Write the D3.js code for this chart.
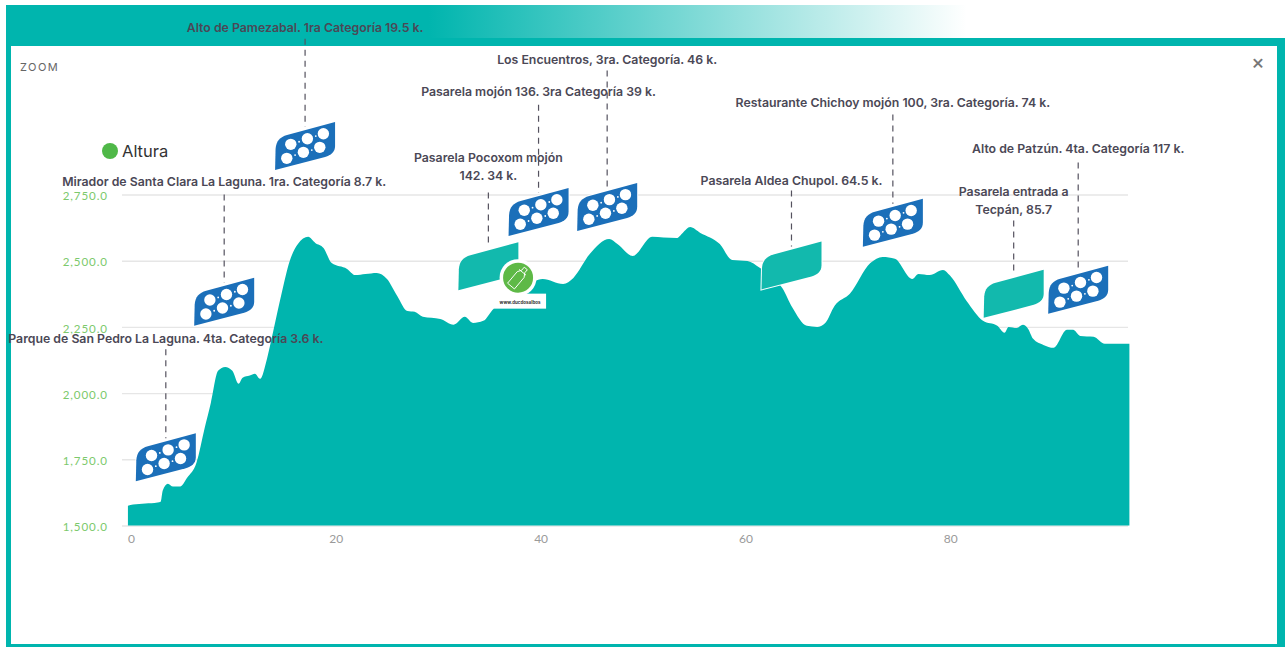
<!DOCTYPE html>
<html>
<head>
<meta charset="utf-8">
<script src="https://cdn.jsdelivr.net/npm/d3@7"></script>
<style>
  html, body { margin: 0; padding: 0; background: #fff; }
  svg { display: block; }
  text { font-family: Inter, "Open Sans", sans-serif; }
  .markerLabel { font-size: 12.3px; font-weight: 600; fill: #4b4856; text-anchor: middle; dominant-baseline: central; }
  .yAxis text { font-family: Lato, sans-serif; font-size: 11.6px; letter-spacing: 0.9px; fill: #7cc96c; }
  .xAxis text { font-family: Lato, sans-serif; font-size: 12px; fill: #9a9a9a; }
  .yAxis line { stroke: #e6e6e6; stroke-width: 1.4; }
  .stem { stroke: #55525f; stroke-width: 1.2; stroke-dasharray: 6 5; }
</style>
</head>
<body>
<svg id="chart" width="1287" height="647"></svg>
<script>
const seriesName = "Altura";
const distanceKm = [-0.3, 0.2, 1.4, 2.6, 2.9, 3.1, 3.6, 4.1, 4.8, 5.5, 6.4, 7.2, 7.8, 8.5, 9.2, 9.9, 10.5, 10.9, 11.6, 12.1, 12.6, 13.3, 13.9, 14.7, 15.5, 16.3, 17.3, 18, 18.8, 19.6, 21.1, 21.9, 22.9, 24, 25, 26, 27, 27.7, 28.5, 30.2, 31.5, 32.6, 33.4, 34.4, 35.4, 37, 38.5, 40.2, 42.2, 43.2, 44.8, 46.7, 47.5, 49, 50.9, 52, 53.3, 53.9, 54.6, 55.6, 57.5, 58.7, 60.2, 61.4, 62.5, 63.6, 64.6, 66, 67, 67.8, 68.7, 70.2, 72.2, 73.4, 74.6, 76.3, 76.9, 78, 79.3, 80, 81.6, 83.2, 84.6, 85.3, 85.7, 86.5, 87.1, 87.6, 88.1, 89.1, 90.1, 91.4, 92, 92.7, 94, 95.1, 96.6, 97.5];
const altitude = [1575, 1579, 1583, 1587, 1590, 1632, 1658, 1647, 1647, 1681, 1738, 1869, 1964, 2084, 2099, 2084, 2035, 2058, 2066, 2073, 2054, 2133, 2235, 2375, 2499, 2563, 2590, 2567, 2548, 2491, 2469, 2446, 2450, 2454, 2431, 2367, 2310, 2307, 2288, 2280, 2258, 2288, 2265, 2273, 2318, 2350, 2400, 2431, 2412, 2435, 2525, 2582, 2563, 2518, 2590, 2588, 2586, 2606, 2627, 2605, 2563, 2503, 2499, 2473, 2440, 2397, 2322, 2254, 2250, 2265, 2329, 2375, 2491, 2514, 2507, 2431, 2450, 2446, 2465, 2443, 2348, 2273, 2254, 2228, 2250, 2246, 2258, 2243, 2205, 2182, 2171, 2239, 2239, 2216, 2213, 2186, 2186, 2186];

const xTickValues = [0, 20, 40, 60, 80];
const yTickValues = [1500, 1750, 2000, 2250, 2500, 2750];

const markerKm = [3.4, 9.1, 17, 34.9, 39.8, 46.5, 64.5, 74.4, 86.2, 92.5];
const markerIconAlt = [1758, 2345, 2933, 2479, 2684, 2703, 2482, 2643, 2375, 2390];
const markerStemAlt = [2166, 2750, 3338, 2758, 3089, 3218, 2765, 3052, 2652, 2871];
const markerLabelAlt = [2207, 2799, 3380, 2822, 3138, 3259, 2803, 3097, 2694, 2924];
const markerKind = ["climb", "climb", "climb", "bridge", "climb", "climb", "bridge", "climb", "bridge", "climb"];
const markerLabels = [
  ["Parque de San Pedro La Laguna. 4ta. Categoría 3.6 k."],
  ["Mirador de Santa Clara La Laguna. 1ra. Categoría 8.7 k."],
  ["Alto de Pamezabal. 1ra Categoría 19.5 k."],
  ["Pasarela Pocoxom mojón", "142. 34 k."],
  ["Pasarela mojón 136. 3ra Categoría 39 k."],
  ["Los Encuentros, 3ra. Categoría. 46 k."],
  ["Pasarela Aldea Chupol. 64.5 k."],
  ["Restaurante Chichoy mojón 100, 3ra. Categoría. 74 k."],
  ["Pasarela entrada a", "Tecpán, 85.7"],
  ["Alto de Patzún. 4ta. Categoría 117 k."],
];
const bottleKm = 37.8;
const bottleAlt = 2436;
const bottleCaption = "www.ducdosalbos";

const TEAL = "#00b5ae";
const svg = d3.select("#chart");

// top band that fades out, then the frame of the zoom dialog
const grad = svg.append("defs").append("linearGradient").attr("id", "bandFade");
grad.append("stop").attr("offset", "44%").attr("stop-color", TEAL);
grad.append("stop").attr("offset", "100%").attr("stop-color", TEAL).attr("stop-opacity", 0);
svg.append("rect").attr("x", 6).attr("y", 5).attr("width", 961).attr("height", 34).attr("fill", "url(#bandFade)");
svg.append("rect").attr("x", 6).attr("y", 38).attr("width", 1279).attr("height", 609).attr("fill", TEAL);
svg.append("rect").attr("x", 11).attr("y", 46).attr("width", 1266).attr("height", 598).attr("fill", "#fff");

svg.append("text").attr("x", 20).attr("y", 71).text("ZOOM")
  .style("font-size", "11px").style("letter-spacing", "1.5px").attr("fill", "#666");
svg.append("text").attr("x", 1258).attr("y", 69).attr("text-anchor", "middle").text("×")
  .style("font-size", "20px").style("font-weight", "500").attr("fill", "#777");

const x = d3.scaleLinear().domain([0, 100]).range([131, 1155]);
const y = d3.scaleLinear().domain([1500, 2750]).range([525.5, 194.5]);

const yAxis = d3.axisLeft(y).tickValues(yTickValues).tickFormat(d3.format(",.1f")).tickSize(-1006).tickPadding(14);
const gy = svg.append("g").attr("class", "yAxis").attr("transform", "translate(122,0)").call(yAxis);
gy.select(".domain").remove();
gy.selectAll("text").attr("dy", "0.45em");

const xAxis = d3.axisBottom(x).tickValues(xTickValues).tickFormat(d3.format("d")).tickSize(0).tickPadding(9);
const gx = svg.append("g").attr("class", "xAxis").attr("transform", "translate(0,525.5)").call(xAxis);
gx.select(".domain").remove();

const area = d3.area()
  .x((d, i) => x(distanceKm[i]))
  .y0(y(1500))
  .y1((d) => y(d))
  .curve(d3.curveMonotoneX);
svg.append("path").attr("d", area(altitude)).attr("fill", TEAL);

// legend
svg.append("circle").attr("cx", 110).attr("cy", 151).attr("r", 8).attr("fill", "#4fb848");
svg.append("text").attr("x", 122).attr("y", 157).text(seriesName)
  .style("font-size", "16.5px").attr("fill", "#333");

const iconShape = "M-30,24 L-29.5,3 C-29,-5 -25,-9 -18,-11 L30,-24 L30,0 C30,6 26,9 20,11 Z";
const holes = [[-14.3, -1.7], [2.3, -7.3], [18.3, -12.3], [-18.3, 12.3], [-1.7, 6.3], [14.7, 1.3]];
const dots = [[-6, -4.3], [10.7, -10], [-10, 9], [6.7, 4]];

const markers = svg.selectAll("g.marker").data(markerKm).join("g").attr("class", "marker");

markers.append("line").attr("class", "stem")
  .attr("x1", (d) => x(d)).attr("x2", (d) => x(d))
  .attr("y1", (d, i) => y(markerStemAlt[i]))
  .attr("y2", (d, i) => y(markerIconAlt[i]) - 19);

const icons = markers.append("g")
  .attr("transform", (d, i) => `translate(${x(d)},${y(markerIconAlt[i])})`);

icons.append("path").attr("d", iconShape)
  .attr("fill", (d, i) => (markerKind[i] === "climb" ? "#1b6fb9" : "#12b9ad"))
  .attr("stroke", "#fff").attr("stroke-width", 2).attr("paint-order", "stroke");

icons.filter((d, i) => markerKind[i] === "climb").each(function () {
  const icon = d3.select(this);
  holes.forEach(([cx, cy]) => icon.append("circle").attr("cx", cx).attr("cy", cy).attr("r", 5.7).attr("fill", "#fff"));
  dots.forEach(([cx, cy]) => icon.append("circle").attr("cx", cx).attr("cy", cy).attr("r", 0.9).attr("fill", "#fff"));
});

markers.each(function (d, i) {
  const lines = markerLabels[i];
  const group = d3.select(this);
  lines.forEach((line, j) => {
    group.append("text").attr("class", "markerLabel")
      .attr("x", x(d))
      .attr("y", y(markerLabelAlt[i]) - (lines.length - 1 - j) * 18)
      .text(line);
  });
});

// water bottle badge
const bottle = svg.append("g").attr("transform", `translate(${x(bottleKm)},${y(bottleAlt)})`);
bottle.append("rect").attr("x", -24).attr("y", 16).attr("width", 52).attr("height", 15).attr("fill", "#fff");
bottle.append("circle").attr("r", 18.5).attr("fill", "#fff");
bottle.append("circle").attr("r", 15).attr("fill", "#5eb947");
bottle.append("path")
  .attr("d", "M-2,-12 L2,-12 L2,-8 L4.5,-4 L4.5,11 L-4.5,11 L-4.5,-4 L-2,-8 Z M-4.5,-7 L4.5,-7")
  .attr("transform", "rotate(40)")
  .attr("fill", "none").attr("stroke", "#fff").attr("stroke-width", 0.9);
bottle.append("text").attr("x", 2).attr("y", 26).attr("text-anchor", "middle").text(bottleCaption)
  .style("font-size", "4.5px").style("font-weight", "700").attr("fill", "#333");
</script>
</body>
</html>
